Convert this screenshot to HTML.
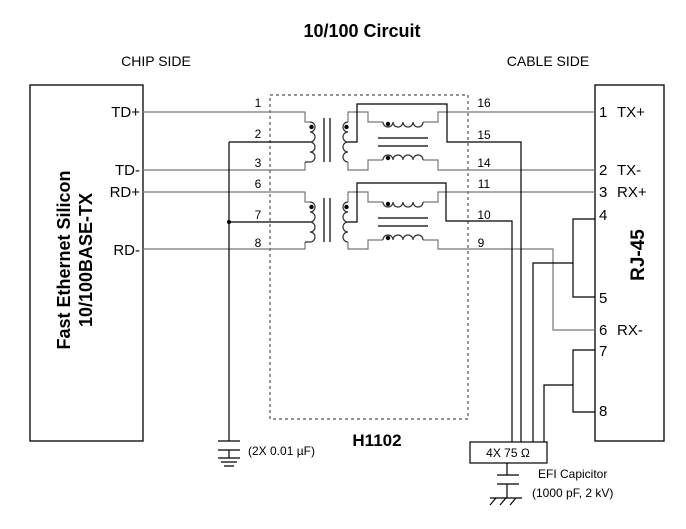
<!DOCTYPE html>
<html><head><meta charset="utf-8"><style>
html,body{margin:0;padding:0;background:#fff}
svg{display:block;font-family:"Liberation Sans",sans-serif}
</style></head><body>
<svg width="686" height="529" viewBox="0 0 686 529" xmlns="http://www.w3.org/2000/svg">
<g fill="#000">
<text x="362" y="37" font-size="18" font-weight="bold" text-anchor="middle">10/100 Circuit</text>
<text x="156" y="66" font-size="14" text-anchor="middle">CHIP SIDE</text>
<text x="548" y="66" font-size="14" text-anchor="middle">CABLE SIDE</text>
</g>
<rect x="30" y="85" width="113" height="356" fill="none" stroke="#000" stroke-width="1.3"/>
<rect x="595" y="85" width="69" height="356" fill="none" stroke="#000" stroke-width="1.3"/>
<rect x="270" y="95" width="198" height="324" fill="none" stroke="#555" stroke-width="1.2" stroke-dasharray="3,3"/>
<text transform="translate(70,260) rotate(-90)" font-size="18" font-weight="bold" text-anchor="middle">Fast Ethernet Silicon</text>
<text transform="translate(92,260) rotate(-90)" font-size="18" font-weight="bold" text-anchor="middle">10/100BASE-TX</text>
<text transform="translate(644,255) rotate(-90)" font-size="19" font-weight="bold" text-anchor="middle">RJ-45</text>
<g font-size="15" text-anchor="end">
<text x="140" y="117">TD+</text><text x="140" y="175">TD-</text>
<text x="140" y="197">RD+</text><text x="140" y="255">RD-</text>
</g>
<g font-size="15">
<text x="599" y="117">1</text><text x="617" y="117">TX+</text>
<text x="599" y="175">2</text><text x="617" y="175">TX-</text>
<text x="599" y="197">3</text><text x="617" y="197">RX+</text>
<text x="599" y="220">4</text>
<text x="599" y="303">5</text>
<text x="599" y="335">6</text><text x="617" y="335">RX-</text>
<text x="599" y="356">7</text><text x="599" y="416">8</text>
</g>
<g font-size="12" text-anchor="middle">
<text x="258" y="107">1</text><text x="258" y="138">2</text><text x="258" y="167">3</text>
<text x="258" y="188">6</text><text x="258" y="219">7</text><text x="258" y="247">8</text>
<text x="484" y="107">16</text><text x="484" y="139">15</text><text x="484" y="167">14</text>
<text x="484" y="188">11</text><text x="484" y="219">10</text><text x="481" y="247">9</text>
</g>
<g fill="none" stroke-width="1.2">
<path d="M143,112H305V122H310 M305,162V170H143 M143,192H305V202H310 M305,242V249H143" stroke="#777"/>
<path d="M229,142H310 M229,222H310 M229,142V441" stroke="#000"/>
<path d="M310,122a5,5 0 0 1 0,10a5,5 0 0 1 0,10a5,5 0 0 1 0,10a5,5 0 0 1 0,10H305" stroke="#333"/>
<path d="M310,202a5,5 0 0 1 0,10a5,5 0 0 1 0,10a5,5 0 0 1 0,10a5,5 0 0 1 0,10H305" stroke="#333"/>
<path d="M324,118V162 M330,118V162 M324,198V242 M330,198V242" stroke="#000"/>
<path d="M348,122a5,5 0 0 0 0,10a5,5 0 0 0 0,10a5,5 0 0 0 0,10a5,5 0 0 0 0,10" stroke="#333"/>
<path d="M348,202a5,5 0 0 0 0,10a5,5 0 0 0 0,10a5,5 0 0 0 0,10a5,5 0 0 0 0,10" stroke="#333"/>
<path d="M348,122V112H368V122H383 M423,122H438V112H595" stroke="#777"/>
<path d="M348,162V170H368V160H383 M423,160H438V170H595" stroke="#777"/>
<path d="M348,202V192H368V202H383 M423,202H438V192H595" stroke="#777"/>
<path d="M348,242V249H368V240H383 M423,240H438V249H553V330H595" stroke="#777"/>
<path d="M383,122a5,5 0 0 0 10,0a5,5 0 0 0 10,0a5,5 0 0 0 10,0a5,5 0 0 0 10,0" stroke="#333"/>
<path d="M383,160a5,5 0 0 1 10,0a5,5 0 0 1 10,0a5,5 0 0 1 10,0a5,5 0 0 1 10,0" stroke="#333"/>
<path d="M383,202a5,5 0 0 0 10,0a5,5 0 0 0 10,0a5,5 0 0 0 10,0a5,5 0 0 0 10,0" stroke="#333"/>
<path d="M383,240a5,5 0 0 1 10,0a5,5 0 0 1 10,0a5,5 0 0 1 10,0a5,5 0 0 1 10,0" stroke="#333"/>
<path d="M378,138H428 M378,146H428 M378,218H428 M378,226H428" stroke="#000"/>
<path d="M348,142H357V104H447V142H521V442" stroke="#000"/>
<path d="M348,222H357V183H446V221H512V442" stroke="#000"/>
<path d="M595,219H573V297H595 M573,263H533V442 M595,350H573V412H595 M573,385H544V442" stroke="#000"/>
<rect x="470" y="442" width="77" height="21" stroke="#000"/>
<path d="M507,463V475 M497,475H519 M497,484H519 M507,484V498 M490,498H522 M496,498l-6,7 M506,498l-6,7 M516,498l-6,7" stroke="#000"/>
<path d="M218,441H240 M218,450H240 M229,450V458 M218,458H240 M221,462H237 M224,466H234" stroke="#000"/>
</g>
<g fill="#000">
<circle cx="311.5" cy="127" r="2.2"/><circle cx="311.5" cy="207" r="2.2"/>
<circle cx="346.5" cy="127" r="2.2"/><circle cx="346.5" cy="207" r="2.2"/>
<circle cx="388" cy="124" r="2.2"/><circle cx="388" cy="158" r="2.2"/>
<circle cx="388" cy="204" r="2.2"/><circle cx="388" cy="238" r="2.2"/>
<circle cx="229" cy="222" r="2"/>
</g>
<g fill="#000">
<text x="508" y="457" font-size="12" text-anchor="middle">4X 75 Ω</text>
<text x="538" y="478" font-size="12">EFI Capicitor</text>
<text x="532" y="497" font-size="12">(1000 pF, 2 kV)</text>
<text x="248" y="455" font-size="12">(2X 0.01 µF)</text>
<text x="377" y="446" font-size="17" font-weight="bold" text-anchor="middle">H1102</text>
</g>
</svg>
</body></html>
